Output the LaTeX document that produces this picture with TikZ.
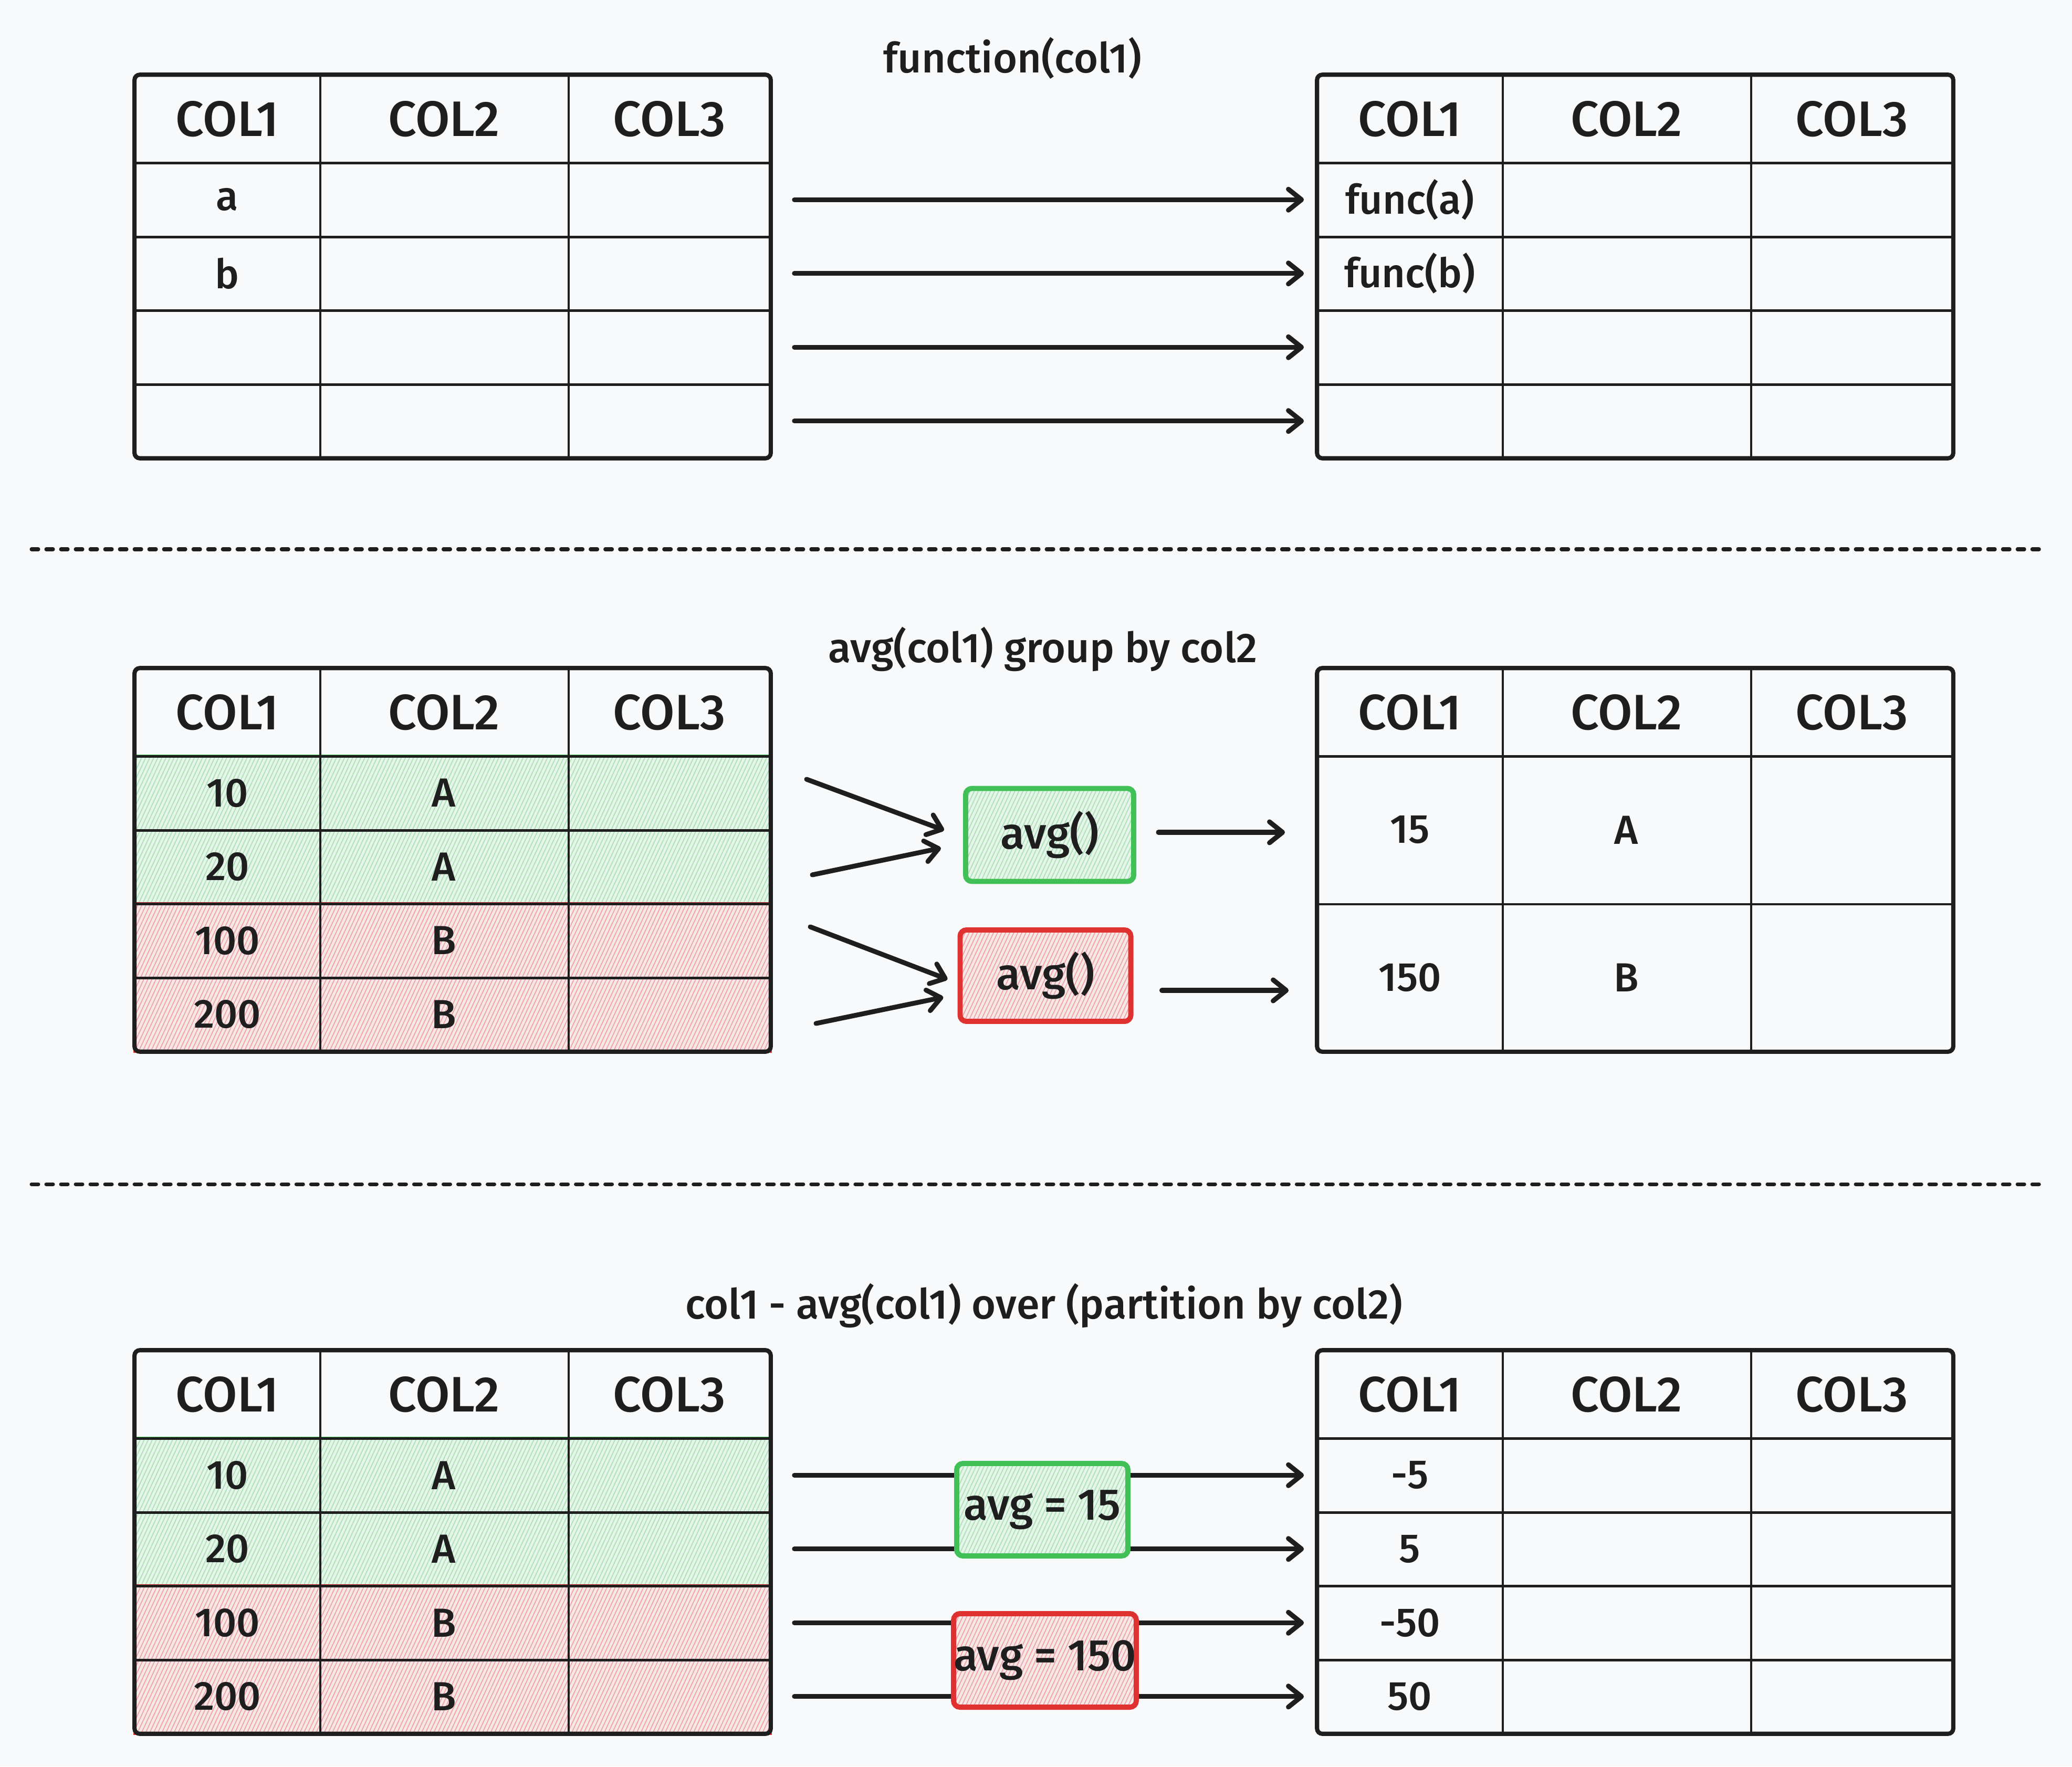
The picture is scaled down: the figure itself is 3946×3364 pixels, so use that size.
\documentclass[tikz,border=0pt]{standalone}
\usepackage{fontspec}
\setmainfont{Fira Sans}[UprightFont={* Medium}, BoldFont={* SemiBold}]
\usetikzlibrary{arrows.meta}
\usetikzlibrary{patterns.meta}
\usetikzlibrary{calc}
\pgfdeclarelayer{paper}
\pgfdeclarelayer{hatch}
\pgfsetlayers{paper,hatch,main}
\newcommand{\tabheadfont}{\fontsize{27}{32}\selectfont}
\newcommand{\tabtextfont}{\fontsize{22}{26}\selectfont}
\newcommand{\tabtitlefont}{\fontsize{22.5}{27}\selectfont}
\newcommand{\tabboxfont}{\fontsize{24}{28}\selectfont}

\begin{document}
\begin{tikzpicture}[x=0.01cm, y=-0.01cm]

            % DEF COLORS
            \definecolor{papercolor}{HTML}{F8F9FA}
            \definecolor{inkcolor}{HTML}{1E1E1E}
            \definecolor{greencolor}{HTML}{40C057}
            \definecolor{redcolor}{HTML}{E03131}

            % DEF STYLES
            \tikzstyle{headstyle} = [inner sep=0pt, font=\tabheadfont, text=inkcolor]
            \tikzstyle{cellstyle} = [inner sep=0pt, font=\tabtextfont, text=inkcolor]
            \tikzstyle{titlestyle} = [inner sep=0pt, font=\tabtitlefont, text=inkcolor]
            \tikzstyle{gridstyle} = [line width=1.3pt, color=inkcolor]
            \tikzstyle{borderstyle} = [line width=2.3pt, color=inkcolor, rounded corners=0.1cm]
            \tikzstyle{arrowstyle} = [line width=2.6pt, color=inkcolor, line cap=round, -{Straight Barb[length=0.25cm, width=0.4cm, round]}]
            \tikzstyle{dashstyle} = [line width=2pt, color=inkcolor, line cap=round, dash pattern=on 0.13cm off 0.15cm]
            \tikzset{
              hatchrows/.style={draw=#1, line width=1.3pt,
                preaction={fill=#1!9!papercolor},
                preaction={pattern={Lines[angle=65, distance=0.07cm, line width=0.5pt]}, pattern color=#1!45!white}},
              avgbox/.style={draw=#1, line width=2.8pt, rounded corners=0.12cm, inner sep=0pt,
                font=\tabboxfont, text=inkcolor,
                preaction={fill=#1!9!papercolor},
                preaction={pattern={Lines[angle=65, distance=0.07cm, line width=0.5pt]}, pattern color=#1!45!white}}
            }

            % PAPER
            \useasboundingbox (0,0) rectangle (3946,3364);
            \begin{pgfonlayer}{paper}
              \fill[papercolor] (0,0) rectangle (3946,3364);
            \end{pgfonlayer}

            % TITLES
            \node[titlestyle] (title1) at (1928,111) {function(col1)};
            \node[titlestyle] (title2) at (1986,1236) {avg(col1) group by col2};
            \node[titlestyle] (title3) at (1988,2486) {col1 - avg(col1) over (partition by col2)};

            % TABLE CELLS (four rows)
            \foreach \t/\x/\y in {l1/257/143, r1/2509/143, l2/257/1273, l3/257/2572, r3/2509/2572} {
              \foreach \c/\o/\w in {1/176/3.52, 2/588.5/4.73, 3/1017.5/3.85} {
                \node[headstyle, minimum width=\w cm, minimum height=1.67cm] (\t-0-\c) at (\x+\o, \y+83.5) {COL\c};
                \foreach \r in {1,...,4} {
                  \node[cellstyle, minimum width=\w cm, minimum height=1.405cm] (\t-\r-\c) at (\x+\o, \y+167+140.5*\r-70.25) {};
                }
              }
            }

            % TABLE CELLS (two rows)
            \foreach \c/\o/\w in {1/176/3.52, 2/588.5/4.73, 3/1017.5/3.85} {
              \node[headstyle, minimum width=\w cm, minimum height=1.67cm] (r2-0-\c) at (2509+\o, 1356.5) {COL\c};
              \foreach \r in {1,2} {
                \node[cellstyle, minimum width=\w cm, minimum height=2.81cm] (r2-\r-\c) at (2509+\o, 1440+281*\r-140.5) {};
              }
            }

            % CELL TEXTS
            \foreach \n/\s in {l1-1-1/a, l1-2-1/b, r1-1-1/func(a), r1-2-1/func(b),
                               l2-1-1/10, l2-1-2/A, l2-2-1/20, l2-2-2/A, l2-3-1/100, l2-3-2/B, l2-4-1/200, l2-4-2/B,
                               r2-1-1/15, r2-1-2/A, r2-2-1/150, r2-2-2/B,
                               l3-1-1/10, l3-1-2/A, l3-2-1/20, l3-2-2/A, l3-3-1/100, l3-3-2/B, l3-4-1/200, l3-4-2/B,
                               r3-1-1/-5, r3-2-1/5, r3-3-1/-50, r3-4-1/50} {
              \node[cellstyle] (\n-txt) at (\n) {\s};
            }

            % HATCHED GROUPS
            \begin{pgfonlayer}{hatch}
              \foreach \t in {l2,l3} {
                \draw[hatchrows=greencolor] (\t-1-1.north west) rectangle (\t-2-3.south east);
                \draw[hatchrows=redcolor] (\t-3-1.north west) rectangle (\t-4-3.south east);
              }
            \end{pgfonlayer}

            % GRID LINES AND BORDERS
            \foreach \t/\n in {l1/4, r1/4, l2/4, r2/2, l3/4, r3/4} {
              \foreach \c in {1,2} {
                \draw[gridstyle] (\t-0-\c.north east) -- (\t-\n-\c.south east);
              }
              \foreach \r in {0,...,\numexpr\n-1\relax} {
                \draw[gridstyle] (\t-\r-1.south west) -- (\t-\r-3.south east);
              }
              \draw[borderstyle] (\t-0-1.north west) rectangle (\t-\n-3.south east);
            }

            % SEPARATORS
            \coordinate (sep1a) at (60,1046);
            \coordinate (sep1b) at (3888,1046);
            \coordinate (sep2a) at (60,2255);
            \coordinate (sep2b) at (3888,2255);
            \draw[dashstyle] (sep1a) -- (sep1b);
            \draw[dashstyle] (sep2a) -- (sep2b);

            % ARROWS (row to row)
            \foreach \r in {1,...,4} {
              \draw[arrowstyle, shorten <=0.45cm, shorten >=0.25cm] (l1-\r-3.east) -- (r1-\r-1.west);
              \draw[arrowstyle, shorten <=0.45cm, shorten >=0.25cm] (l3-\r-3.east) -- (r3-\r-1.west);
            }

            % AVG BOXES
            \node[avgbox=greencolor, minimum width=3.20cm, minimum height=1.77cm] (gavg) at (1999,1590) {avg()};
            \node[avgbox=redcolor, minimum width=3.25cm, minimum height=1.74cm] (ravg) at (1991,1858) {avg()};
            \node[avgbox=greencolor, minimum width=3.26cm, minimum height=1.76cm] (gpart) at (1985,2875) {avg = 15};
            \node[avgbox=redcolor, minimum width=3.27cm, minimum height=1.78cm] (rpart) at (1990,3162) {avg = 150};

            % ARROWS (into and out of avg)
            \coordinate (gin1) at (1536,1484);
            \coordinate (gin2) at (1547,1666);
            \coordinate (rin1) at (1543,1765);
            \coordinate (rin2) at (1554,1949);
            \draw[arrowstyle] (gin1) -- ([xshift=-0.36cm, yshift=0.09cm]gavg.west);
            \draw[arrowstyle] (gin2) -- ([xshift=-0.42cm, yshift=-0.25cm]gavg.west);
            \draw[arrowstyle] (rin1) -- ([xshift=-0.19cm, yshift=-0.07cm]ravg.west);
            \draw[arrowstyle] (rin2) -- ([xshift=-0.27cm, yshift=-0.41cm]ravg.west);
            \draw[arrowstyle, shorten >=0.61cm] ([xshift=0.42cm, yshift=0.05cm]gavg.east) -- ([yshift=0.05cm]gavg.east -| r2-1-1.west);
            \draw[arrowstyle, shorten >=0.54cm] ([xshift=0.54cm, yshift=-0.28cm]ravg.east) -- ([yshift=-0.28cm]ravg.east -| r2-2-1.west);

\end{tikzpicture}
\end{document}
